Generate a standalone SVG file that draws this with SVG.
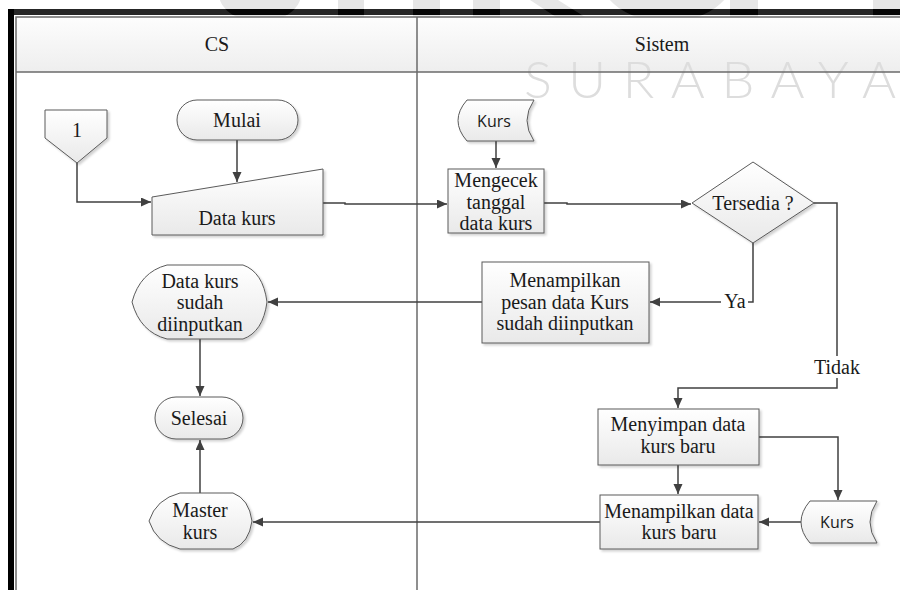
<svg xmlns="http://www.w3.org/2000/svg" width="900" height="590" viewBox="0 0 900 590">
  <defs>
    <linearGradient id="nodeFill" x1="0" y1="0" x2="0" y2="1">
      <stop offset="0" stop-color="#ffffff"/>
      <stop offset="1" stop-color="#e9e9e9"/>
    </linearGradient>
    <linearGradient id="headFill" x1="0" y1="0" x2="0" y2="1">
      <stop offset="0" stop-color="#fdfdfd"/>
      <stop offset="1" stop-color="#eeeeee"/>
    </linearGradient>
    <filter id="shadow" x="-10%" y="-10%" width="130%" height="130%">
      <feDropShadow dx="2" dy="2" stdDeviation="1" flood-color="#000" flood-opacity="0.18"/>
    </filter>
    <marker id="arrow" markerUnits="userSpaceOnUse" markerWidth="11" markerHeight="10" refX="10" refY="4.5" orient="auto">
      <path d="M0,0 L10,4.5 L0,9 Z" fill="#404040"/>
    </marker>
    <clipPath id="barClip">
      <rect x="8" y="9" width="892" height="6"/>
    </clipPath>
  </defs>
  <style>
    .node { fill: url(#nodeFill); stroke: #5a5a5a; stroke-width: 1; filter: url(#shadow); }
    .lbl { font-family: "Liberation Serif", "Times New Roman", serif; font-size: 20px; fill: #1a1a1a; text-anchor: middle; }
    .sans { font-family: "Open Sans", "Liberation Sans", sans-serif; font-size: 16px; fill: #1a1a1a; text-anchor: middle; }
    .edge { fill: none; stroke: #404040; stroke-width: 1.5; }
    .arr { marker-end: url(#arrow); }
    .lane { fill: none; stroke: #6a6a6a; stroke-width: 1.5; }
    .wm { fill: #e6e6e6; }
  </style>

  <rect width="900" height="590" fill="#ffffff"/>

  <!-- watermark shapes along the top edge -->
  <g id="watermark-top" class="wm">
    <ellipse cx="260" cy="-6" rx="41" ry="28"/>
    <rect x="338" y="0" width="26" height="17"/>
    <rect x="413" y="0" width="27" height="17"/>
    <rect x="473" y="0" width="27" height="17"/>
    <polygon points="530,0 558,0 585,17 556,17"/>
    <ellipse cx="667" cy="-26" rx="68" ry="48"/>
    <rect x="730" y="0" width="28" height="17"/>
    <rect x="873" y="0" width="27" height="17"/>
  </g>

  <!-- swimlane header band -->
  <rect x="16" y="17" width="884" height="55" fill="url(#headFill)"/>

  <!-- watermark lettering -->
  <text id="watermark-text" x="524" y="98" textLength="372" lengthAdjust="spacing" font-family="Lato, 'Open Sans', sans-serif" font-weight="300" font-size="52" fill="#dddddd">SURABAYA</text>

  <!-- outer frame -->
  <rect x="8" y="9" width="892" height="6" fill="#262626"/>
  <g clip-path="url(#barClip)" fill="#060606">
    <ellipse cx="260" cy="-6" rx="41" ry="28"/>
    <rect x="338" y="0" width="26" height="17"/>
    <rect x="413" y="0" width="27" height="17"/>
    <rect x="473" y="0" width="27" height="17"/>
    <polygon points="530,0 558,0 585,17 556,17"/>
    <ellipse cx="667" cy="-26" rx="68" ry="48"/>
    <rect x="730" y="0" width="28" height="17"/>
    <rect x="873" y="0" width="27" height="17"/>
  </g>
  <rect x="8" y="9" width="6" height="581" fill="#000000"/>

  <!-- swimlanes -->
  <g id="lanes">
    <path class="lane" d="M16,590 V17 H900"/>
    <path class="lane" d="M16,72 H900"/>
    <path class="lane" d="M417,17 V590"/>
    <text class="lbl" x="217" y="51">CS</text>
    <text class="lbl" x="662" y="51">Sistem</text>
  </g>

  <!-- connectors -->
  <g id="connectors">
    <path class="edge arr" d="M77,163 V202 H151"/>
    <path class="edge arr" d="M237,140 V182"/>
    <path class="edge arr" d="M323,203 H345 V204 H447"/>
    <path class="edge arr" d="M496,141 V168"/>
    <path class="edge arr" d="M544,203 H567 V204 H691"/>
    <path class="edge arr" d="M753,243 V302 H650"/>
    <path class="edge arr" d="M814,203 H837 V388 H678 V408"/>
    <path class="edge arr" d="M482,302 H268"/>
    <path class="edge arr" d="M200,339 V396"/>
    <path class="edge arr" d="M200,493 V440"/>
    <path class="edge arr" d="M759,437 H838 V500"/>
    <path class="edge arr" d="M678,465 V494"/>
    <path class="edge arr" d="M801,522 H759"/>
    <path class="edge arr" d="M600,522 H253"/>
    <rect x="721" y="292" width="27" height="20" fill="#ffffff"/>
    <text class="lbl" x="735" y="308">Ya</text>
    <rect x="814" y="356" width="46" height="22" fill="#ffffff"/>
    <text class="lbl" x="837" y="374">Tidak</text>
  </g>

  <!-- CS lane -->
  <g id="connector-1">
    <polygon class="node" points="45,110 107,110 107,138 77,163 45,138"/>
    <text class="lbl" x="77" y="137">1</text>
  </g>
  <g id="mulai">
    <rect class="node" x="177" y="100" width="121" height="40" rx="20"/>
    <text class="lbl" x="237" y="127">Mulai</text>
  </g>
  <g id="data-kurs">
    <polygon class="node" points="152,197 323,169 323,235 152,235"/>
    <text class="lbl" x="237" y="225">Data kurs</text>
  </g>
  <g id="data-kurs-sudah">
    <path class="node" d="M167,265 H243 Q263,272 267,302 Q263,332 243,339 H167 Q140,332 132,302 Q140,272 167,265 Z"/>
    <text class="lbl" x="200" y="288">Data kurs</text>
    <text class="lbl" x="200" y="309">sudah</text>
    <text class="lbl" x="200" y="331">diinputkan</text>
  </g>
  <g id="selesai">
    <rect class="node" x="155" y="397" width="88" height="42" rx="21"/>
    <text class="lbl" x="199" y="425">Selesai</text>
  </g>
  <g id="master-kurs">
    <path class="node" d="M180,493 H233 Q249,499 252,521 Q249,543 233,549 H180 Q156,543 149,521 Q156,499 180,493 Z"/>
    <text class="lbl" x="200" y="517">Master</text>
    <text class="lbl" x="200" y="539">kurs</text>
  </g>

  <!-- Sistem lane -->
  <g id="kurs-1">
    <path class="node" d="M467,100 H534 Q520,120.5 534,141 H467 Q449,120.5 467,100 Z"/>
    <text class="sans" x="494" y="127">Kurs</text>
  </g>
  <g id="mengecek">
    <rect class="node" x="448" y="169" width="96" height="64"/>
    <text class="lbl" x="496" y="187">Mengecek</text>
    <text class="lbl" x="496" y="209">tanggal</text>
    <text class="lbl" x="496" y="230">data kurs</text>
  </g>
  <g id="tersedia">
    <polygon class="node" points="753,162 814,203 753,243 692,203"/>
    <text class="lbl" x="753" y="210">Tersedia ?</text>
  </g>
  <g id="menampilkan-pesan">
    <rect class="node" x="482" y="262" width="167" height="81"/>
    <text class="lbl" x="565" y="287">Menampilkan</text>
    <text class="lbl" x="565" y="308.5">pesan data Kurs</text>
    <text class="lbl" x="565" y="330">sudah diinputkan</text>
  </g>
  <g id="menyimpan">
    <rect class="node" x="598" y="409" width="161" height="56"/>
    <text class="lbl" x="678" y="431">Menyimpan data</text>
    <text class="lbl" x="678" y="453">kurs baru</text>
  </g>
  <g id="menampilkan-data">
    <rect class="node" x="600" y="495" width="158" height="54"/>
    <text class="lbl" x="679" y="518">Menampilkan data</text>
    <text class="lbl" x="679" y="539">kurs baru</text>
  </g>
  <g id="kurs-2">
    <path class="node" d="M810,501 H877 Q863,522 877,543 H810 Q792,522 810,501 Z"/>
    <text class="sans" x="837" y="528">Kurs</text>
  </g>
</svg>
